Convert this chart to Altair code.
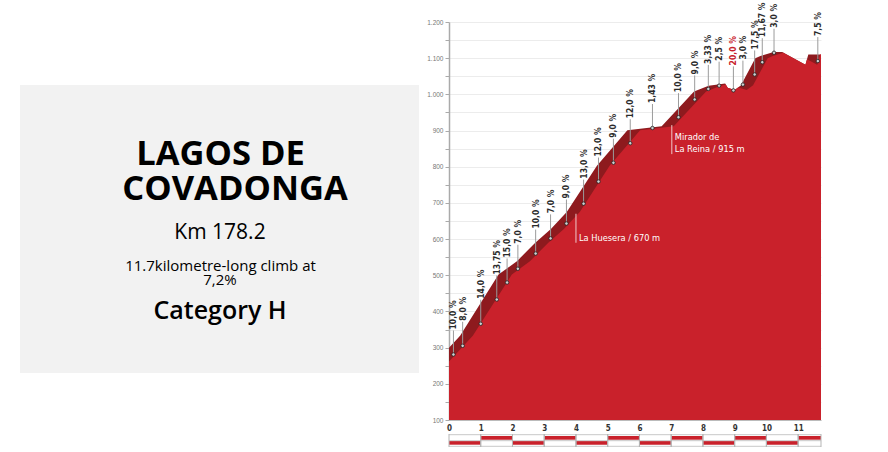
import altair as alt
import pandas as pd

# ---------------- data ----------------
# top edge of the dark upper band (true elevation profile)
profile_km = [0, 0.35, 1.56, 2.14, 2.71, 3.21, 3.71, 4.66, 5.62, 6.70, 7.72, 8.18, 8.70,
              8.78, 9.00, 9.20, 9.65, 9.81, 10.23, 10.50, 11.23, 11.32, 11.72]
profile_elev = [300, 333, 502, 539, 589, 628, 675, 803, 901, 912, 1008, 1024, 1030,
                1018, 1012, 1025, 1100, 1106, 1117, 1117, 1082, 1110, 1110]

# top edge of the lighter front face
face_km = [0, 0.75, 1.98, 2.55, 3.12, 3.62, 4.12, 5.06, 6.02, 7.08, 8.10, 8.56, 8.72, 8.78,
           9.00, 9.12, 9.14, 9.38, 9.58, 10.04, 10.20, 10.53, 11.23, 11.28, 11.60, 11.69, 11.72]
face_elev = [262, 333, 502, 539, 589, 628, 675, 803, 901, 912, 1008, 1024, 1027, 1018,
             1012, 1020, 1018, 1012, 1025, 1100, 1106, 1115, 1082, 1097, 1082, 1110, 1110]

# gradient markers
grad_km = [0.14, 0.43, 1.00, 1.505, 1.83, 2.17, 2.73, 3.20, 3.70, 4.24, 4.71, 5.18, 5.71,
           6.41, 7.23, 7.74, 8.17, 8.51, 8.96, 9.26, 9.63, 9.87, 10.24, 11.62]
grad_elev = [281, 305, 366, 433, 480, 518, 560, 602, 643, 698, 759, 811, 865,
             907, 937, 986, 1015, 1024, 1011, 1027, 1055, 1089, 1115, 1092]
grad_text = ["10,0 %", "8,0 %", "14,0 %", "13,75 %", "15,0 %", "7,0 %", "10,0 %", "7,0 %",
             "9,0 %", "13,0 %", "12,0 %", "9,0 %", "12,0 %", "1,43 %", "10,0 %", "9,0 %",
             "3,33 %", "2,5 %", "20,0 %", "3,0 %", "17,5 %", "11,67 %", "3,0 %", "7,5 %"]
grad_highlight = "20,0 %"

# named points
anno_km = [4.0, 7.02]
anno_elev = [670, 915]
anno_text_km = [4.0, 7.02, 7.02]
anno_text_elev = [670, 915, 915]
anno_text = ["La Huesera / 670 m", "Mirador de", "La Reina / 915 m"]
anno_text_row = [2, 1, 2]

km_ticks = list(range(0, 12))
elev_ticks = list(range(100, 1201, 50))

strip_start = [0, 1, 2, 3, 4, 5, 6, 7, 8, 9, 10, 11]
strip_end = [1, 2, 3, 4, 5, 6, 7, 8, 9, 10, 11, 11.72]
strip_row = [2, 1, 2, 1, 2, 1, 2, 1, 2, 1, 2, 1]

climb_name = ["LAGOS DE", "COVADONGA"]
climb_km = "Km 178.2"
climb_desc = ["11.7kilometre-long climb at", "7,2%"]
climb_cat = "Category H"

# ---------------- style ----------------
KM_MAX = 11.72
DARK = "#8e1a1e"
LIGHT = "#c9212b"
NARROW = "Liberation Sans Narrow, DejaVu Sans Condensed, sans-serif"
OPEN = "Open Sans"
GAP = 24
W, H = 372, 398
PAD = {"left": 449, "top": 22, "right": 67, "bottom": 32}

xs = alt.Scale(domain=[0, KM_MAX], nice=False, zero=False)
ys = alt.Scale(domain=[100, 1200], nice=False, zero=False)

X_AXIS = alt.Axis(values=km_ticks, grid=False, ticks=False, labelPadding=4,
                  labelFont=NARROW, labelFontSize=8, labelFontWeight="bold",
                  labelColor="#333333", domainColor="#bbbbbb", labelFlush=False)
Y_AXIS = alt.Axis(values=elev_ticks, grid=True, gridColor="#ececec", gridWidth=1,
                  tickColor="#aaaaaa", tickSize=4, domainColor="#aaaaaa", domainWidth=1.5,
                  labelFont="Liberation Sans", labelFontSize=6.5, labelColor="#777777",
                  labelPadding=2,
                  labelExpr="datum.value % 100 === 0 ? replace(format(datum.value, ','), ',', '.') : ''")

prof = pd.DataFrame({"km": profile_km, "elev": profile_elev})
face = pd.DataFrame({"km": face_km, "elev": face_elev})
grads = pd.DataFrame({"km": grad_km, "elev": grad_elev, "label": grad_text})
grads["col"] = ["#c8202a" if t == grad_highlight else "#2b2b2b" for t in grad_text]
anno = pd.DataFrame({"km": anno_km, "elev": anno_elev})
anno_t = pd.DataFrame({"km": anno_text_km, "elev": anno_text_elev,
                       "t": anno_text, "row": anno_text_row})
strip = pd.DataFrame({"s": strip_start, "e": strip_end, "row": strip_row})
one = pd.DataFrame({"a": [0]})


def X(field="km"):
    return alt.X(f"{field}:Q", scale=xs, title=None, axis=X_AXIS)


def Y():
    return alt.Y("elev:Q", scale=ys, title=None, axis=Y_AXIS)


layers = []

# profile (carries the axes)
layers.append(alt.Chart(prof).mark_area(color=DARK, clip=True).encode(
    x=X(), y=Y(), y2=alt.datum(100)))
layers.append(alt.Chart(face).mark_area(color=LIGHT, clip=True).encode(
    x=X(), y=Y(), y2=alt.datum(100)))

# gradient leaders, dots and labels
layers.append(alt.Chart(grads).mark_rule(color="#9b9b9b", strokeWidth=1, y2Offset=-GAP).encode(
    x=X(), y=Y(), y2="elev:Q"))
layers.append(alt.Chart(grads).mark_point(shape="circle", filled=True, size=12, fill="#d0d0d0",
                                          stroke="#222222", strokeWidth=0.8, opacity=1).encode(
    x=X(), y=Y()))
layers.append(alt.Chart(grads).mark_text(angle=270, align="left", baseline="middle", dx=GAP + 1,
                                         font=NARROW, fontSize=8.5, fontWeight="bold").encode(
    x=X(), y=Y(), text="label:N", color=alt.Color("col:N", scale=None)))

# named points
layers.append(alt.Chart(anno).mark_rule(color="#f0caca", strokeWidth=1, y2Offset=29).encode(
    x=X(), y=Y(), y2="elev:Q"))
for row, dy in [(1, 12), (2, 24)]:
    layers.append(alt.Chart(anno_t).transform_filter(alt.datum.row == row).mark_text(
        align="left", baseline="middle", dx=3, dy=dy, color="white", font=NARROW,
        fontSize=9.2).encode(x=X(), y=Y(), text="t:N"))

# bottom km strip
for row, y0, y1 in [(1, 414, 417.7), (2, 419, 422.7)]:
    layers.append(alt.Chart(strip).transform_filter(alt.datum.row == row).mark_rect(
        color=LIGHT).encode(x=X("s"), x2="e:Q", y=alt.value(y0), y2=alt.value(y1)))
for yy in [412.7, 418.7, 424.3]:
    layers.append(alt.Chart(one).mark_rule(color="#c8c8c8", strokeWidth=1).encode(
        x=alt.value(0), x2=alt.value(W), y=alt.value(yy)))
layers.append(alt.Chart(strip).mark_rule(color="#b5b5b5", strokeWidth=1).encode(
    x=X("s"), y=alt.value(412), y2=alt.value(425)))
layers.append(alt.Chart(strip).mark_rule(color="#b5b5b5", strokeWidth=1).encode(
    x=X("e"), y=alt.value(412), y2=alt.value(425)))

# left info panel
layers.append(alt.Chart(one).mark_rect(color="#f2f2f2").encode(
    x=alt.value(-429), x2=alt.value(-30), y=alt.value(63), y2=alt.value(351)))

panel_texts = [
    (climb_name[0], -228.5, 143, 34.5, "bold"),
    (climb_name[1], -214, 178, 34.5, "bold"),
    (climb_km, -229, 217.3, 21, "normal"),
    (climb_desc[0], -228.5, 248.7, 15, "normal"),
    (climb_desc[1], -229, 263, 15, "normal"),
    (climb_cat, -229, 297.3, 25, 600),
]
for txt, px, py, fs, fw in panel_texts:
    layers.append(alt.Chart(pd.DataFrame({"t": [txt]})).mark_text(
        font=OPEN, fontSize=fs, fontWeight=fw, color="#000000", align="center",
        baseline="alphabetic").encode(text="t:N", x=alt.value(px), y=alt.value(py)))

chart = alt.layer(*layers).properties(
    width=W, height=H, padding=PAD, autosize=alt.AutoSizeParams(type="none"),
    background="white",
).configure_view(stroke=None)

chart.save("out.html", embed_options={"renderer": "svg", "actions": False})
